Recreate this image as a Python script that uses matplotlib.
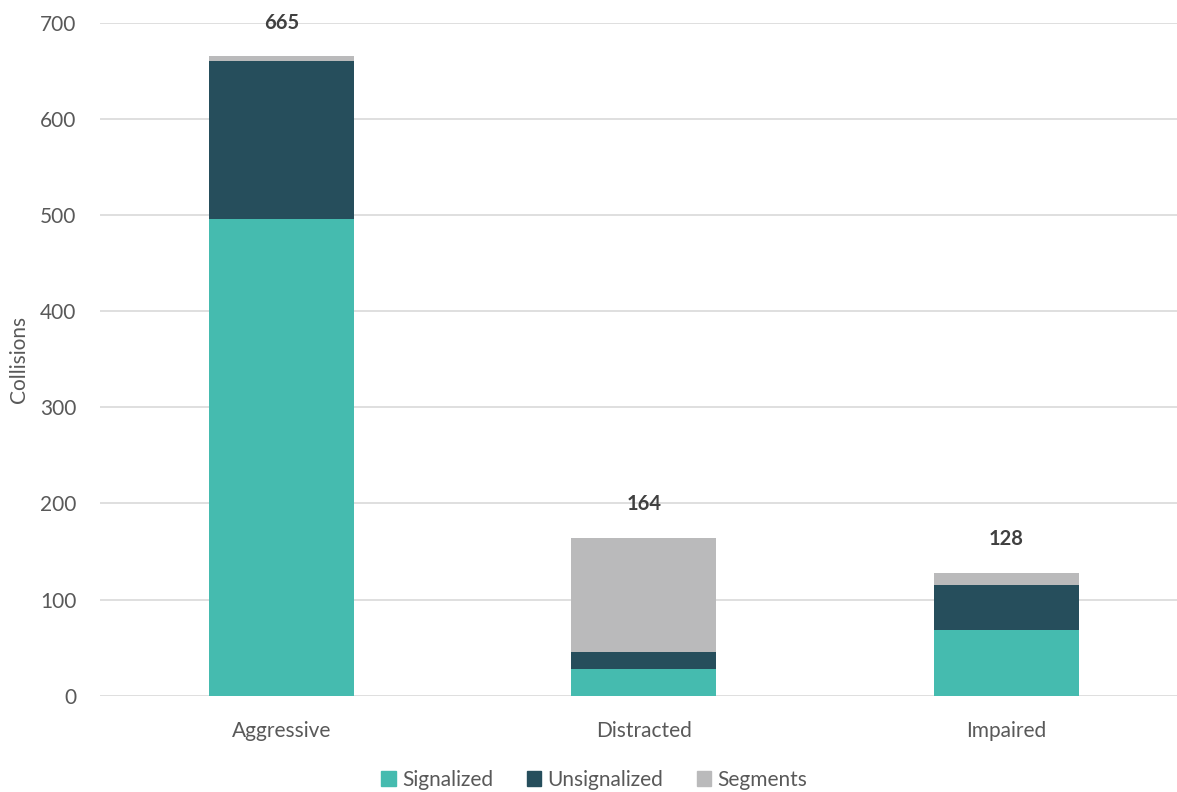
import numpy as np
import matplotlib.pyplot as plt
from matplotlib.patches import Patch

plt.rcParams['font.family'] = ['Lato', 'DejaVu Sans']

categories = ['Aggressive', 'Distracted', 'Impaired']
signalized = [496, 28, 68]
unsignalized = [164, 17, 47]
segments = [5, 119, 13]
totals = [665, 164, 128]

colors = {'Signalized': '#45BBAF', 'Unsignalized': '#264E5C', 'Segments': '#BABABB'}
text_color = '#595959'

fig = plt.figure(figsize=(11.77, 7.92), dpi=100)
ax = fig.add_axes([0.085, 0.1216, 0.915, 0.8497])

x = np.arange(len(categories))
w = 0.4
bottom = np.zeros(len(categories))
for name, vals in [('Signalized', signalized), ('Unsignalized', unsignalized), ('Segments', segments)]:
    ax.bar(x, vals, w, bottom=bottom, color=colors[name], zorder=3)
    bottom += np.array(vals)

# totals above each stack
for xi, t in zip(x, totals):
    ax.annotate(str(t), (xi, t), xytext=(0, 17), textcoords='offset points',
                ha='center', va='bottom', fontsize=14.5, fontweight='bold', color='#404040')

ax.set_xlim(-0.5, 2.47)
ax.set_ylim(0, 700)
ax.set_yticks(range(0, 701, 100))
ax.set_xticks(x)
ax.set_xticklabels(categories)
ax.grid(axis='y', color='#D9D9D9', linewidth=1.2, zorder=0)
ax.tick_params(axis='both', length=0, labelsize=15, colors=text_color)
ax.tick_params(axis='x', pad=18)
ax.tick_params(axis='y', pad=17)
for s in ax.spines.values():
    s.set_visible(False)
ax.set_ylabel('Collisions', fontsize=15, color=text_color, labelpad=8)

handles = [Patch(color=c, label=n) for n, c in colors.items()]
fig.legend(handles=handles, loc='lower center', bbox_to_anchor=(0.505, -0.021), ncol=3,
           frameon=False, fontsize=15, handlelength=0.7, handleheight=0.7,
           handletextpad=0.3, columnspacing=1.6, labelcolor=text_color)

fig.savefig('out.png', dpi=100)
